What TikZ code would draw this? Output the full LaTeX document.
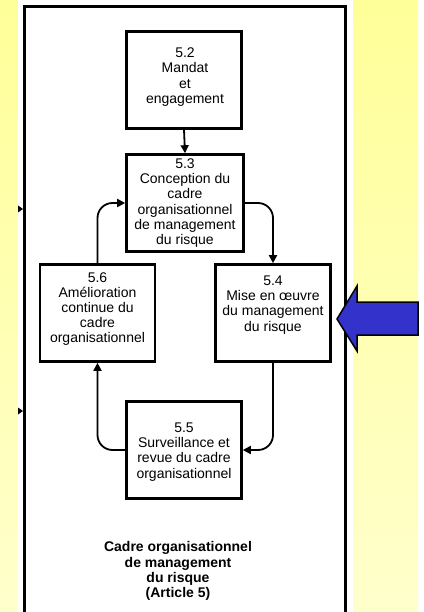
\documentclass[tikz,border=0pt]{standalone}
\usepackage{fontspec}
\setmainfont{Liberation Sans}
\usetikzlibrary{arrows.meta}
\definecolor{bgyellow}{HTML}{FFFF99}
\definecolor{bgyellowlight}{HTML}{FFFFCC}
\definecolor{arrowblue}{HTML}{3333CC}
\tikzset{
  box/.style={draw=black, line width=2.6pt, minimum width=115pt, minimum height=97pt, inner sep=0pt},
  boxtext/.style={align=center, font=\fontsize{14}{15.2}\selectfont, inner sep=0pt},
  conn/.style={line width=1.8pt, rounded corners=15pt, -{Triangle[length=8pt,width=8pt]}},
  tick/.style={fill=black}
}
\begin{document}
\begin{tikzpicture}[x=1pt,y=-1pt]
\useasboundingbox (0,0) rectangle (423,612);
% background
\fill[white] (0,0) rectangle (423,612);
\shade[top color=bgyellow, bottom color=bgyellowlight] (0,0) rectangle (418,612);
\fill[white] (18,0) rectangle (353,612);
% frame
\draw[line width=3pt] (24.5,612) -- (24.5,6.5) -- (345.5,6.5) -- (345.5,612);
% ticks on left edge
\fill[tick] (18,205.5) -- (23,209) -- (18,212.5) -- cycle;
\fill[tick] (18,407.5) -- (23,411) -- (18,414.5) -- cycle;
% boxes
\node[box] (b52) at (184,80) {};
\node[box, minimum width=117pt] (b53) at (185,203) {};
\node[box] (b56) at (97.5,313) {};
\node[box] (b54) at (273,313) {};
\node[box] (b55) at (184,450) {};
% texts
\node[boxtext] (t52) at (185,77) {5.2\\Mandat\\et\\engagement};
\node[boxtext] (t53) at (185,203) {5.3\\Conception du\\cadre\\organisationnel\\de management\\du risque};
\node[boxtext] (t56) at (97.5,309) {5.6\\Amélioration\\continue du\\cadre\\organisationnel};
\node[boxtext] (t54) at (273,305) {5.4\\Mise en œuvre\\du management\\du risque};
\node[boxtext] (t55) at (184,452) {5.5\\Surveillance et\\revue du cadre\\organisationnel};
\node[boxtext, font=\bfseries\fontsize{14}{15.2}\selectfont] (title) at (178,571) {Cadre organisationnel\\de management\\du risque\\(Article 5)};
% connectors
\draw[conn] (b52.south) -- (b53.north);
\draw[conn] (b53.east) -| (b54.north);
\draw[conn] (b54.south) |- (b55.east);
\draw[conn] (b55.west) -| (b56.south);
\draw[conn] (b56.north) |- (b53.west);
% blue arrow
\filldraw[fill=arrowblue, draw=black, line width=1.5pt, line join=miter]
  (337,319) -- (357,286) -- (357,302) -- (418,302) -- (418,335) -- (357,335) -- (357,351) -- cycle;
\end{tikzpicture}
\end{document}
